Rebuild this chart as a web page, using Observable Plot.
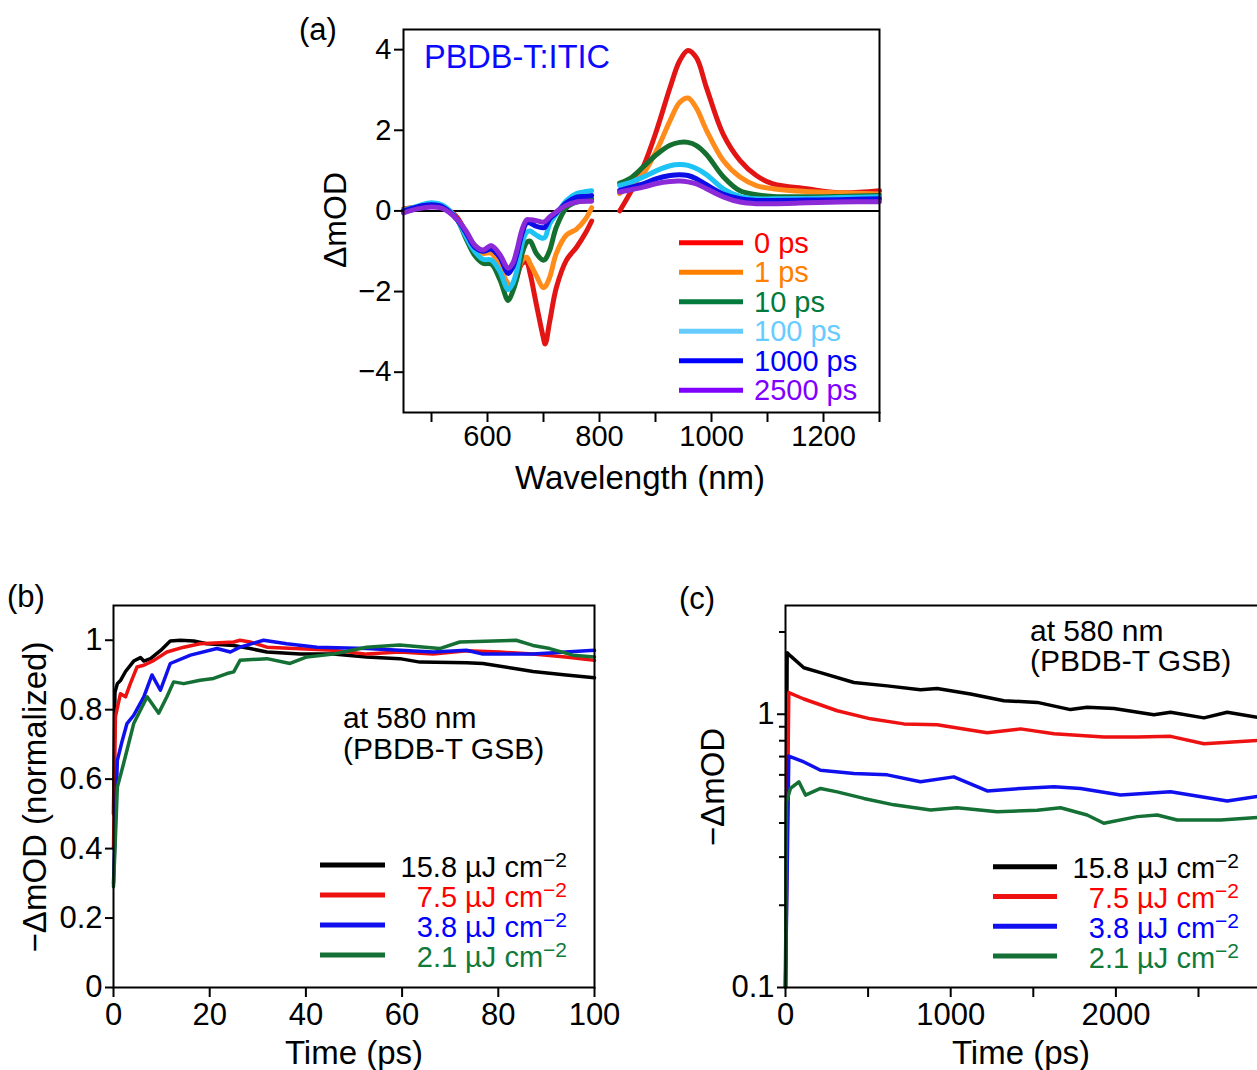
<!DOCTYPE html>
<html><head><meta charset="utf-8">
<script src="https://cdn.jsdelivr.net/npm/d3@7"></script>
<script src="https://cdn.jsdelivr.net/npm/@observablehq/plot@0.6"></script>
<style>
html,body{margin:0;padding:0;background:#fff;overflow:hidden;}
#wrap{position:relative;width:1257px;height:1070px;overflow:hidden;background:#fff;font-family:"Liberation Sans",Arial,sans-serif;}
#wrap svg{position:absolute;}
</style></head><body><div id="wrap"></div>
<script>
// ---------- Panel (a) data: transient spectra ----------
const delays = ["0 ps", "1 ps", "10 ps", "100 ps", "1000 ps", "2500 ps"];
const wlLeft = [450, 475, 500, 520, 545, 562, 577, 592, 607, 622, 637, 645, 652, 662, 670, 676, 687, 699, 703, 711, 723, 741, 759, 775, 786];
const wlRight = [836, 854, 878, 902, 926, 943, 958, 973, 991, 1021, 1051, 1080, 1110, 1170, 1229, 1300];
const spec0L    = [0.05, 0.1, 0.15, 0.1, -0.15, -0.55, -0.85, -1.0, -1.0, -1.35, -1.85, -1.85, -1.65, -1.3, -1.28, -1.55, -2.3, -3.1, -3.3, -2.75, -1.9, -1.22, -0.9, -0.55, -0.25];
const spec1L    = [0.03, 0.1, 0.15, 0.1, -0.2, -0.6, -0.9, -1.05, -1.05, -1.4, -1.8, -1.85, -1.6, -1.22, -1.15, -1.3, -1.6, -1.9, -1.88, -1.65, -1.05, -0.6, -0.45, -0.2, 0.08];
const spec10L   = [0.0, 0.1, 0.18, 0.12, -0.2, -0.7, -1.1, -1.3, -1.32, -1.7, -2.22, -2.0, -1.7, -1.05, -0.78, -0.75, -1.05, -1.22, -1.2, -0.98, -0.4, 0.08, 0.22, 0.25, 0.3];
const spec100L  = [0.02, 0.12, 0.2, 0.14, -0.2, -0.65, -1.0, -1.2, -1.22, -1.5, -1.95, -1.8, -1.5, -0.8, -0.53, -0.5, -0.6, -0.68, -0.65, -0.32, -0.08, 0.26, 0.43, 0.48, 0.5];
const spec1000L = [0.0, 0.1, 0.15, 0.1, -0.2, -0.55, -0.9, -1.0, -0.95, -1.15, -1.55, -1.4, -1.1, -0.55, -0.3, -0.3, -0.38, -0.42, -0.4, -0.2, -0.05, 0.2, 0.34, 0.36, 0.38];
const spec2500L = [-0.05, 0.05, 0.1, 0.06, -0.2, -0.5, -0.85, -0.97, -0.86, -1.08, -1.42, -1.3, -1.0, -0.45, -0.22, -0.22, -0.24, -0.28, -0.26, -0.15, -0.02, 0.14, 0.22, 0.24, 0.24];
const spec0R    = [0.0, 0.43, 1.09, 2.0, 3.06, 3.72, 3.98, 3.8, 3.06, 1.9, 1.25, 0.88, 0.67, 0.55, 0.45, 0.5];
const spec1R    = [0.43, 0.62, 0.92, 1.5, 2.24, 2.69, 2.8, 2.55, 2.0, 1.25, 0.84, 0.63, 0.55, 0.48, 0.45, 0.42];
const spec10R   = [0.69, 0.8, 1.09, 1.4, 1.63, 1.7, 1.7, 1.62, 1.4, 0.85, 0.5, 0.4, 0.36, 0.35, 0.36, 0.38];
const spec100R  = [0.63, 0.7, 0.84, 1.0, 1.12, 1.15, 1.13, 1.05, 0.9, 0.55, 0.36, 0.3, 0.3, 0.31, 0.33, 0.35];
const spec1000R = [0.51, 0.58, 0.67, 0.8, 0.88, 0.9, 0.88, 0.8, 0.65, 0.42, 0.3, 0.26, 0.26, 0.27, 0.28, 0.3];
const spec2500R = [0.47, 0.52, 0.59, 0.68, 0.73, 0.74, 0.72, 0.67, 0.55, 0.35, 0.22, 0.18, 0.18, 0.2, 0.22, 0.23];
const lineColorsA = ["#e31414", "#ff8c1a", "#157030", "#1ec3f5", "#0d0de8", "#8c2ad8"];
const textColorsA = ["#ff0000", "#ff8000", "#007a3d", "#66ccff", "#0000ff", "#8000ff"];

// ---------- Panel (b) data: normalized kinetics (0-100 ps) ----------
const fluences = ["15.8", "7.5", "3.8", "2.1"];
const tB158 = [0, 0.3, 0.8, 1.5, 2.5, 4.2, 5.6, 6.3, 7.7, 9.75, 11.8, 13.9, 16.7, 19.4, 25, 28.4, 31.9, 38.8, 45.7, 52.6, 59.5, 63.7, 73.4, 76.8, 83.7, 87.2, 94.1, 100];
const vB158 = [0.5, 0.85, 0.875, 0.885, 0.91, 0.94, 0.95, 0.94, 0.947, 0.97, 0.998, 1.0, 0.998, 0.99, 0.985, 0.976, 0.966, 0.96, 0.96, 0.952, 0.947, 0.937, 0.935, 0.933, 0.918, 0.91, 0.9, 0.892];
const tB75 = [0, 0.4, 1.45, 2.5, 3.5, 4.9, 6.3, 8.4, 11.1, 14.6, 18, 25, 26.3, 28.4, 31.9, 45.7, 52.6, 59.5, 66.5, 73.4, 80.3, 87.2, 94, 100];
const vB75 = [0.4, 0.78, 0.846, 0.837, 0.875, 0.923, 0.928, 0.942, 0.966, 0.98, 0.99, 0.995, 1.0, 0.995, 0.98, 0.971, 0.96, 0.966, 0.96, 0.97, 0.966, 0.96, 0.952, 0.942];
const tB38 = [0, 0.8, 1.8, 2.8, 4.2, 6.3, 8, 9.75, 11.8, 16, 21.5, 24.3, 26.3, 31.2, 36, 42.3, 52.6, 66.5, 73.4, 76.8, 87.2, 94, 100];
const vB38 = [0.3, 0.654, 0.71, 0.76, 0.784, 0.837, 0.9, 0.856, 0.933, 0.957, 0.976, 0.966, 0.98, 1.0, 0.99, 0.98, 0.976, 0.966, 0.971, 0.96, 0.96, 0.966, 0.971];
const tB21 = [0, 0.8, 2.1, 4.2, 7, 9.4, 11.1, 12.5, 14.6, 18, 20.8, 23.6, 25, 26.3, 31.9, 36.7, 40.2, 45.7, 52.6, 59.5, 67.8, 72, 83.7, 87.2, 90.7, 95.5, 100];
const vB21 = [0.29, 0.577, 0.645, 0.76, 0.837, 0.79, 0.837, 0.88, 0.875, 0.885, 0.89, 0.904, 0.909, 0.942, 0.947, 0.933, 0.952, 0.96, 0.98, 0.986, 0.976, 0.995, 1.0, 0.985, 0.976, 0.957, 0.952];

// ---------- Panel (c) data: kinetics (log scale, 0-3000 ps) ----------
const tC158 = [0, 10, 30, 111, 212, 414, 616, 817, 918, 1120, 1322, 1524, 1725, 1826, 1988, 2230, 2331, 2533, 2674, 2856, 2950];
const vC158 = [0.1, 1.68, 1.635, 1.48, 1.42, 1.307, 1.27, 1.23, 1.243, 1.186, 1.12, 1.105, 1.04, 1.06, 1.05, 0.995, 1.017, 0.97, 1.017, 0.975, 0.98];
const tC75 = [0, 20, 111, 313, 515, 716, 918, 1221, 1423, 1625, 1927, 2129, 2331, 2533, 2856, 2950];
const vC75 = [0.1, 1.2, 1.137, 1.03, 0.962, 0.922, 0.915, 0.855, 0.884, 0.848, 0.825, 0.825, 0.83, 0.78, 0.802, 0.8];
const tC38 = [0, 20, 111, 212, 414, 616, 817, 1019, 1221, 1423, 1625, 1786, 2028, 2331, 2674, 2856, 2950];
const vC38 = [0.1, 0.703, 0.669, 0.624, 0.607, 0.6, 0.566, 0.59, 0.524, 0.535, 0.543, 0.535, 0.506, 0.52, 0.481, 0.5, 0.5];
const tC21 = [0, 6, 30, 81, 121, 212, 313, 474, 656, 878, 1039, 1281, 1524, 1665, 1826, 1927, 2129, 2250, 2371, 2634, 2856, 2950];
const vC21 = [0.1, 0.478, 0.535, 0.566, 0.506, 0.535, 0.52, 0.492, 0.466, 0.446, 0.455, 0.44, 0.445, 0.455, 0.428, 0.399, 0.422, 0.428, 0.41, 0.41, 0.419, 0.42];
const lineColorsBC = ["#000000", "#ee1111", "#1010ee", "#157035"];
const textColorsBC = ["#000000", "#ff0000", "#0000ff", "#0f7a3a"];

// ---------- build tables ----------
const specL = [spec0L, spec1L, spec10L, spec100L, spec1000L, spec2500L];
const specR = [spec0R, spec1R, spec10R, spec100R, spec1000R, spec2500R];
const rowsA = [];
delays.forEach((d, i) => {
  wlLeft.forEach((w, j) => rowsA.push({nm: w, v: specL[i][j], delay: d, seg: "L"}));
  wlRight.forEach((w, j) => rowsA.push({nm: w, v: specR[i][j], delay: d, seg: "R"}));
});
const tB = [tB158, tB75, tB38, tB21], vB = [vB158, vB75, vB38, vB21];
const tC = [tC158, tC75, tC38, tC21], vC = [vC158, vC75, vC38, vC21];
const rowsB = [], rowsC = [];
fluences.forEach((f, i) => {
  tB[i].forEach((t, j) => rowsB.push({t, v: vB[i][j], f}));
  tC[i].forEach((t, j) => rowsC.push({t, v: vC[i][j], f}));
});

const FONT = '"Liberation Sans", Arial, Helvetica, sans-serif';
const minusFmt = d => d < 0 ? "\u2212" + (-d) : String(d);
const baseStyle = (fs) => ({fontFamily: FONT, fontSize: fs, background: "transparent", overflow: "visible", color: "black"});
const wrap = document.getElementById("wrap");

// ---------- Panel (a) ----------
const plotA = Plot.plot({
  width: 610, height: 515, marginLeft: 113, marginRight: 21, marginTop: 29, marginBottom: 103,
  style: baseStyle("29px"),
  x: {domain: [450, 1300]}, y: {domain: [-5, 4.5]},
  color: {domain: delays, range: lineColorsA},
  marks: [
    Plot.ruleY([0], {stroke: "black", strokeWidth: 2}),
    Plot.line(rowsA, {x: "nm", y: "v", z: d => d.delay + d.seg, stroke: "delay", strokeWidth: 5, curve: "catmull-rom", strokeLinejoin: "round"}),
    Plot.frame({stroke: "black", strokeWidth: 2}),
    Plot.axisX({ticks: d3.range(500, 1301, 100), tickFormat: d => d % 200 === 0 ? String(d) : "", tickSize: 10, tickPadding: 3, label: null, fontSize: 29, strokeWidth: 2}),
    Plot.axisY({ticks: [-4, -2, 0, 2, 4], tickFormat: minusFmt, tickSize: 9, tickPadding: 3, label: null, fontSize: 29, strokeWidth: 2})
  ]
});
plotA.style.left = "290px"; plotA.style.top = "0px";
wrap.appendChild(plotA);

// ---------- Panel (b) ----------
const plotB = Plot.plot({
  width: 640, height: 510, marginLeft: 113, marginRight: 46, marginTop: 45, marginBottom: 83,
  style: baseStyle("31px"),
  x: {domain: [0, 100]}, y: {domain: [0, 1.1]},
  color: {domain: fluences, range: lineColorsBC},
  marks: [
    Plot.line(rowsB, {x: "t", y: "v", z: "f", stroke: "f", strokeWidth: 3.5, strokeLinejoin: "round"}),
    Plot.frame({stroke: "black", strokeWidth: 2}),
    Plot.axisX({ticks: [0, 20, 40, 60, 80, 100], tickFormat: d => String(d), tickSize: 10, tickPadding: 5, label: null, fontSize: 31, strokeWidth: 2}),
    Plot.axisY({ticks: [0, 0.2, 0.4, 0.6, 0.8, 1], tickFormat: d => String(d), tickSize: 8, tickPadding: 3, label: null, fontSize: 31, strokeWidth: 2})
  ]
});
plotB.style.left = "0px"; plotB.style.top = "560px";
wrap.appendChild(plotB);

// ---------- Panel (c) ----------
const plotC = Plot.plot({
  width: 640, height: 510, marginLeft: 115, marginRight: 29.4, marginTop: 45, marginBottom: 83,
  style: baseStyle("31px"),
  x: {domain: [0, 3000]}, y: {type: "log", domain: [0.1, 2.5]},
  color: {domain: fluences, range: lineColorsBC},
  marks: [
    Plot.line(rowsC, {x: "t", y: "v", z: "f", stroke: "f", strokeWidth: 3.5, strokeLinejoin: "round"}),
    Plot.frame({stroke: "black", strokeWidth: 2}),
    Plot.axisX({ticks: [0, 500, 1000, 1500, 2000, 2500, 3000], tickFormat: d => (d % 1000 === 0 && d < 3000) ? String(d) : "", tickSize: 10, tickPadding: 5, label: null, fontSize: 31, strokeWidth: 2}),
    Plot.axisY({ticks: [0.1, 1], tickFormat: d => String(d), tickSize: 8, tickPadding: 3, label: null, fontSize: 31, strokeWidth: 2}),
    Plot.axisY({ticks: [0.2, 0.3, 0.4, 0.5, 0.6, 0.7, 0.8, 0.9, 2], tickFormat: () => "", tickSize: 6, tickPadding: 3, label: null, strokeWidth: 2})
  ]
});
plotC.style.left = "670px"; plotC.style.top = "560px";
wrap.appendChild(plotC);

// ---------- Overlay: titles, axis labels, annotations, legends ----------
const ov = d3.select(wrap).append("svg").attr("width", 1257).attr("height", 1070)
  .style("left", "0px").style("top", "0px").style("font-family", FONT);
function txt(x, y, s, size, opts = {}) {
  const t = ov.append("text").attr("x", x).attr("y", y).attr("font-size", size)
    .attr("fill", opts.fill || "black").attr("text-anchor", opts.anchor || "start").text(s);
  if (opts.rotate) t.attr("x", 0).attr("y", 0).attr("transform", `translate(${x},${y}) rotate(-90)`);
  return t;
}
// panel letters
txt(299, 40, "(a)", 31);
txt(7, 607, "(b)", 31);
txt(679, 609, "(c)", 31);
// axis titles
txt(346, 220, "\u0394mOD", 32, {anchor: "middle", rotate: true});
txt(640, 489, "Wavelength (nm)", 33, {anchor: "middle"});
txt(46, 797, "\u2212\u0394mOD (normalized)", 33, {anchor: "middle", rotate: true});
txt(354, 1064, "Time (ps)", 33, {anchor: "middle"});
txt(724, 787, "\u2212\u0394mOD", 33, {anchor: "middle", rotate: true});
txt(1021, 1064, "Time (ps)", 33, {anchor: "middle"});
// annotations
txt(424, 68, "PBDB-T:ITIC", 32.5, {fill: "#0a0aff"});
txt(343, 728, "at 580 nm", 30);
txt(343, 759, "(PBDB-T GSB)", 30);
txt(1030, 641, "at 580 nm", 30);
txt(1030, 671, "(PBDB-T GSB)", 30);
// legend (a)
delays.forEach((d, i) => {
  const y = 242.7 + 29.5 * i;
  ov.append("line").attr("x1", 679).attr("x2", 743).attr("y1", y).attr("y2", y)
    .attr("stroke", textColorsA[i]).attr("stroke-width", 5);
  txt(754, y + 9.8, d, 29, {fill: textColorsA[i]});
});
// legends (b) and (c)
function fluenceLegend(x1, x2, xr, y0, dy) {
  fluences.forEach((f, i) => {
    const y = y0 + dy * i;
    ov.append("line").attr("x1", x1).attr("x2", x2).attr("y1", y).attr("y2", y)
      .attr("stroke", lineColorsBC[i]).attr("stroke-width", 5);
    const t = ov.append("text").attr("x", xr).attr("y", y + 11.5).attr("font-size", 29)
      .attr("fill", textColorsBC[i]).attr("text-anchor", "end");
    t.append("tspan").text(f + " \u00B5J cm");
    t.append("tspan").attr("dy", -10).attr("font-size", 21).text("\u22122");
  });
}
fluenceLegend(320, 385, 567, 865, 30);
fluenceLegend(993, 1057, 1239, 866.7, 29.8);
</script></body></html>
